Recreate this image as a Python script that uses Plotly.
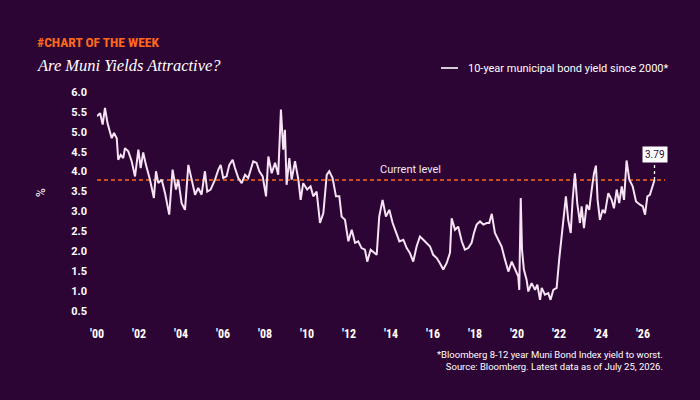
import plotly.graph_objects as go

# ---- data ----
years = [
    2000.00, 2000.15, 2000.27, 2000.38, 2000.50, 2000.62, 2000.70, 2000.81, 2000.94,
    2001.01, 2001.13, 2001.25, 2001.33, 2001.49, 2001.65, 2001.81, 2001.97,
    2002.08, 2002.20, 2002.33, 2002.52, 2002.71, 2002.81, 2002.92,
    2003.08, 2003.24, 2003.44, 2003.60, 2003.76, 2003.87,
    2004.03, 2004.19, 2004.35, 2004.51, 2004.67, 2004.82, 2004.98,
    2005.14, 2005.25, 2005.41, 2005.62, 2005.78, 2005.89,
    2006.01, 2006.17, 2006.30, 2006.46, 2006.57, 2006.73, 2006.89,
    2007.05, 2007.20, 2007.44, 2007.60, 2007.73, 2007.89,
    2008.05, 2008.16, 2008.32, 2008.48, 2008.63, 2008.76, 2008.87, 2008.95,
    2009.03, 2009.16, 2009.27, 2009.43, 2009.59, 2009.70, 2009.82,
    2010.01, 2010.17, 2010.30, 2010.46, 2010.62, 2010.78, 2010.94,
    2011.06, 2011.22, 2011.38, 2011.54, 2011.65, 2011.81, 2011.97,
    2012.13, 2012.29, 2012.44, 2012.60, 2012.76, 2012.87,
    2013.03, 2013.19, 2013.32, 2013.44, 2013.60, 2013.76, 2013.92,
    2014.08, 2014.24, 2014.40, 2014.59, 2014.75, 2014.90,
    2015.06, 2015.22, 2015.38, 2015.54, 2015.70, 2015.86,
    2016.01, 2016.18, 2016.33, 2016.49, 2016.65, 2016.81, 2016.89,
    2017.05, 2017.20, 2017.37, 2017.52, 2017.68, 2017.84, 2017.95,
    2018.08, 2018.24, 2018.40, 2018.56, 2018.68, 2018.80, 2018.95,
    2019.11, 2019.27, 2019.43, 2019.59, 2019.75, 2019.90,
    2020.06, 2020.11, 2020.18, 2020.24, 2020.33, 2020.46, 2020.54, 2020.70, 2020.86, 2020.97,
    2021.10, 2021.18, 2021.33, 2021.49, 2021.60, 2021.73, 2021.89,
    2022.01, 2022.13, 2022.24, 2022.33, 2022.44, 2022.56, 2022.65, 2022.76, 2022.87,
    2023.00, 2023.08, 2023.19, 2023.32, 2023.44, 2023.56, 2023.67, 2023.76, 2023.84, 2023.95,
    2024.08, 2024.19, 2024.35, 2024.51, 2024.62, 2024.75, 2024.87, 2024.99,
    2025.10, 2025.22, 2025.35, 2025.51, 2025.67, 2025.86, 2025.99,
    2026.10, 2026.21, 2026.33, 2026.46, 2026.55,
]
yields = [
    5.39, 5.47, 5.18, 5.60, 5.22, 4.97, 4.84, 4.97, 4.84,
    4.30, 4.42, 4.34, 4.59, 4.51, 4.26, 3.88, 4.55,
    4.09, 4.48, 4.17, 3.80, 3.34, 4.01, 3.71,
    3.80, 3.46, 2.92, 4.05, 3.55, 3.80,
    3.21, 3.04, 4.17, 3.80, 3.42, 3.59, 3.42,
    4.01, 3.50, 3.55, 3.80, 4.05, 4.17,
    3.84, 3.88, 4.17, 4.30, 4.09, 3.84, 3.71,
    3.92, 3.84, 4.26, 4.22, 4.01, 3.88,
    3.38, 4.38, 3.96, 4.22, 3.92, 5.56, 4.55, 5.05,
    3.67, 4.34, 3.80, 4.26, 3.80, 3.29, 3.71,
    3.55, 3.63, 3.38, 3.50, 2.71, 2.96, 3.92,
    4.01, 3.84, 3.38, 3.38, 2.87, 2.79, 2.25,
    2.54, 2.21, 2.25, 2.08, 2.04, 1.74,
    2.04, 1.96, 1.91, 2.87, 3.29, 2.87, 3.04,
    2.71, 2.46, 2.25, 2.29, 2.08, 1.96,
    1.74, 2.12, 2.37, 2.29, 2.21, 2.12,
    1.91, 1.83, 1.70, 1.54, 1.70, 1.96, 2.83,
    2.54, 2.62, 2.25, 2.04, 2.08, 2.21, 2.46,
    2.67, 2.75, 2.67, 2.71, 2.71, 2.94, 2.46,
    2.29, 2.12, 1.79, 1.49, 1.74, 1.54,
    1.37, 1.03, 3.34, 2.04, 1.54, 1.28, 0.99, 1.20, 1.03, 1.16,
    0.78, 1.08, 0.91, 0.95, 0.78, 1.03, 1.08,
    1.79, 2.37, 3.04, 3.38, 2.79, 2.46, 3.29, 3.96, 3.21,
    2.71, 3.13, 2.58, 3.17, 3.04, 3.55, 3.96, 4.15, 3.29, 2.79,
    3.04, 2.96, 3.46, 3.29, 3.08, 3.55, 3.21, 3.63,
    3.29, 4.28, 3.80, 3.63, 3.25, 3.17, 3.13,
    2.92, 3.38, 3.42, 3.63, 3.79,
]
current_level = 3.79
x_tick_vals = list(range(2000, 2027, 2))
x_tick_text = ["'00", "'02", "'04", "'06", "'08", "'10", "'12", "'14",
               "'16", "'18", "'20", "'22", "'24", "'26"]
y_tick_vals = [0.5, 1.0, 1.5, 2.0, 2.5, 3.0, 3.5, 4.0, 4.5, 5.0, 5.5, 6.0]

BG = "#2D0535"
LINE = "#F6E3F4"
ORANGE = "#FF6A1A"
WHITE = "#FFFFFF"

fig = go.Figure()
fig.add_trace(go.Scatter(
    x=years, y=yields, mode="lines",
    line=dict(color=LINE, width=2),
    showlegend=False, hoverinfo="skip",
))

# current level dashed line
fig.add_shape(type="line", xref="paper", yref="y", x0=0, x1=1,
              y0=current_level, y1=current_level,
              line=dict(color=ORANGE, width=1.6, dash="4px,3px"), layer="below")
fig.add_annotation(x=2014.95, y=current_level, xref="x", yref="y",
                   text="Current level", showarrow=False, yanchor="bottom", yshift=2,
                   font=dict(family="Roboto", size=11, color="#F2E6F0"))

# latest value label with dotted leader
fig.add_shape(type="line", xref="x", yref="y", x0=years[-1], x1=years[-1],
              y0=current_level, y1=4.27,
              line=dict(color=WHITE, width=1.3, dash="dot"))
fig.add_annotation(x=years[-1], y=4.43, xref="x", yref="y",
                   text=f"{yields[-1]:.2f}", showarrow=False,
                   bgcolor=WHITE, borderpad=2,
                   font=dict(family="Roboto", size=10, color=BG))

# titles
fig.add_annotation(xref="paper", yref="paper", x=(35 - 97) / 568, y=1.0, xanchor="left", yanchor="middle",
                   yshift=92 - 42, text="<b>#CHART OF THE WEEK</b>", showarrow=False,
                   font=dict(family="Liberation Sans Narrow, Roboto Condensed, Roboto", size=13.5, color=ORANGE))
fig.add_annotation(xref="paper", yref="paper", x=(35 - 97) / 568, y=1.0, xanchor="left", yanchor="middle",
                   yshift=92 - 65, text="<i>Are Muni Yields Attractive?</i>", showarrow=False,
                   font=dict(family="Liberation Serif, DejaVu Serif", size=16.5, color=WHITE))

# legend (custom)
fig.add_shape(type="line", xref="paper", yref="paper",
              x0=(441 - 97) / 568, x1=(458 - 97) / 568, y0=1 + (92 - 68) / 219, y1=1 + (92 - 68) / 219,
              line=dict(color=WHITE, width=1.6))
fig.add_annotation(xref="paper", yref="paper", x=(466 - 97) / 568, y=1 + (92 - 68) / 219,
                   xanchor="left", yanchor="middle", showarrow=False,
                   text="10-year municipal bond yield since 2000*",
                   font=dict(family="Roboto", size=11, color=WHITE))

# y-axis unit
fig.add_annotation(xref="paper", yref="paper", x=(41 - 97) / 568, y=1 - (193 - 92) / 219,
                   xanchor="center", yanchor="middle", showarrow=False, textangle=-90,
                   text="%", font=dict(family="Roboto", size=12, color=WHITE))

# footer
fig.add_annotation(xref="paper", yref="paper", x=1.0, y=-(353 - 311) / 219,
                   xanchor="right", yanchor="top", yshift=6, showarrow=False, align="right",
                   text="*Bloomberg 8-12 year Muni Bond Index yield to worst.<br>"
                        "Source: Bloomberg. Latest data as of July 25, 2026.",
                   font=dict(family="Roboto", size=9.5, color=WHITE))

fig.update_layout(
    width=700, height=400,
    margin=dict(l=97, r=35, t=92, b=89, pad=0),
    paper_bgcolor=BG, plot_bgcolor=BG,
    xaxis=dict(range=[2000, 2027.05], tickmode="array", tickvals=x_tick_vals, ticktext=x_tick_text,
               showgrid=False, zeroline=False, showline=False, ticks="",
               ticklabelstandoff=14,
               tickfont=dict(family="Liberation Sans Narrow, Roboto Condensed, Roboto", size=12,
                             color=WHITE, weight="bold")),
    yaxis=dict(range=[0.5, 6.0], tickmode="array", tickvals=y_tick_vals,
               tickformat=".1f", showgrid=False, zeroline=False, showline=False, ticks="",
               ticklabelstandoff=9,
               tickfont=dict(family="Roboto", size=11, color=WHITE, weight="bold")),
    showlegend=False,
)

fig.write_html("out.html")
